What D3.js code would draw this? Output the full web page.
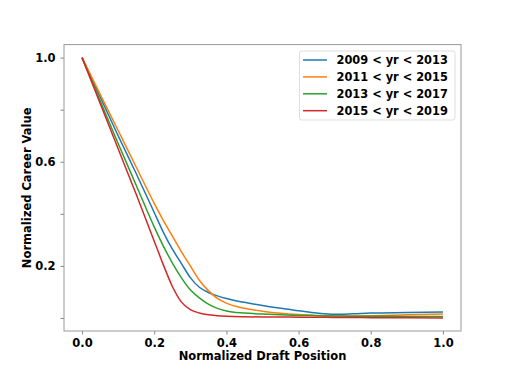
<!DOCTYPE html>
<html>
<head>
<meta charset="utf-8">
<script src="https://d3js.org/d3.v7.min.js"></script>
<style>
  body { margin: 0; background: #fff; }
  text { font-family: "DejaVu Sans", sans-serif; font-weight: bold; }
</style>
</head>
<body>
<div id="chart"></div>
<script>
var width = 512;
var height = 372;
var margin = {left: 64, right: 51, top: 44.6, bottom: 41};

// shared draft positions
var draftPos = [0, 0.05, 0.1, 0.15, 0.2, 0.225, 0.25, 0.275, 0.3, 0.325, 0.35, 0.375, 0.4, 0.45, 0.5, 0.55, 0.6, 0.65, 0.7, 0.75, 0.8, 0.9, 1.0];

var seriesNames = ["2009 < yr < 2013", "2011 < yr < 2015", "2013 < yr < 2017", "2015 < yr < 2019"];
var val0913 = [1, 0.85, 0.70, 0.555, 0.405, 0.33, 0.265, 0.21, 0.155, 0.118, 0.098, 0.085, 0.075, 0.060, 0.048, 0.037, 0.028, 0.019, 0.014, 0.016, 0.019, 0.021, 0.023];
var val1115 = [1, 0.86, 0.72, 0.58, 0.44, 0.375, 0.315, 0.255, 0.20, 0.145, 0.105, 0.075, 0.057, 0.037, 0.026, 0.018, 0.013, 0.010, 0.008, 0.008, 0.009, 0.012, 0.015];
var val1317 = [1, 0.835, 0.67, 0.51, 0.35, 0.277, 0.212, 0.155, 0.108, 0.077, 0.053, 0.037, 0.027, 0.019, 0.015, 0.012, 0.010, 0.009, 0.008, 0.007, 0.007, 0.006, 0.006];
var val1519 = [1, 0.825, 0.65, 0.475, 0.295, 0.205, 0.122, 0.062, 0.032, 0.019, 0.012, 0.009, 0.007, 0.005, 0.004, 0.004, 0.003, 0.003, 0.002, 0.002, 0.001, 0.001, 0.0];
var colors = ["#1f77b4", "#ff7f0e", "#2ca02c", "#d62728"];

var xTicks = [0, 0.2, 0.4, 0.6, 0.8, 1.0];
var xTickLabels = ["0.0", "0.2", "0.4", "0.6", "0.8", "1.0"];
var yTicks = [0, 0.2, 0.4, 0.6, 0.8, 1.0];
var yTickLabels = ["", "0.2", "", "0.6", "", "1.0"];

function drawChart(){
    var allVals = [val0913, val1115, val1317, val1519];
    var svg = d3.select("#chart").append("svg").attr("width", width).attr("height", height);

    var x = d3.scaleLinear().domain([-0.05, 1.05]).range([margin.left, width - margin.right]);
    var y = d3.scaleLinear().domain([-0.05, 1.05]).range([height - margin.bottom, margin.top]);

    var line = d3.line()
        .x(function(d){ return x(d[0]); })
        .y(function(d){ return y(d[1]); })
        .curve(d3.curveMonotoneX);

    allVals.forEach(function(vals, i){
        var pts = draftPos.map(function(p, j){ return [p, vals[j]]; });
        svg.append("path").datum(pts)
            .attr("d", line)
            .attr("fill", "none")
            .attr("stroke", colors[i])
            .attr("stroke-width", 1.5);
    });

    var xAxis = svg.append("g").attr("transform", "translate(0," + (height - margin.bottom) + ")")
        .call(d3.axisBottom(x).tickValues(xTicks).tickSize(3.5).tickPadding(4.5)
            .tickFormat(function(d, i){ return xTickLabels[i]; }));
    var yAxis = svg.append("g").attr("transform", "translate(" + margin.left + ",0)")
        .call(d3.axisLeft(y).tickValues(yTicks).tickSize(3.5).tickPadding(5)
            .tickFormat(function(d, i){ return yTickLabels[i]; }));

    [xAxis, yAxis].forEach(function(g){
        g.select(".domain").remove();
        g.selectAll(".tick line").attr("stroke", "#888");
        g.selectAll(".tick text").attr("fill", "#000").style("font-size", "11.5px")
            .style("font-family", "DejaVu Sans").style("font-weight", "bold");
    });

    // frame
    svg.append("rect")
        .attr("x", margin.left).attr("y", margin.top)
        .attr("width", width - margin.left - margin.right)
        .attr("height", height - margin.top - margin.bottom)
        .attr("fill", "none").attr("stroke", "#999").attr("stroke-width", 1);

    svg.append("text").attr("x", (margin.left + width - margin.right) / 2).attr("y", 359.5)
        .attr("text-anchor", "middle").style("font-size", "11.5px")
        .text("Normalized Draft Position");
    svg.append("text")
        .attr("transform", "translate(31," + ((margin.top + height - margin.bottom) / 2) + ") rotate(-90)")
        .attr("text-anchor", "middle").style("font-size", "11.5px")
        .text("Normalized Career Value");

    // legend
    var legend = svg.append("g");
    legend.append("rect").attr("x", 299.5).attr("y", 51).attr("width", 155.5).attr("height", 69)
        .attr("rx", 2).attr("fill", "#fff").attr("fill-opacity", 0.8)
        .attr("stroke", "#ddd").attr("stroke-width", 1);
    seriesNames.forEach(function(name, i){
        var ly = 60 + i * 16.9;
        legend.append("line").attr("x1", 303).attr("x2", 327).attr("y1", ly).attr("y2", ly)
            .attr("stroke", colors[i]).attr("stroke-width", 1.5);
        legend.append("text").attr("x", 336.5).attr("y", ly + 4.2)
            .style("font-size", "11.4px").text(name);
    });
}
drawChart();
</script>
</body>
</html>
